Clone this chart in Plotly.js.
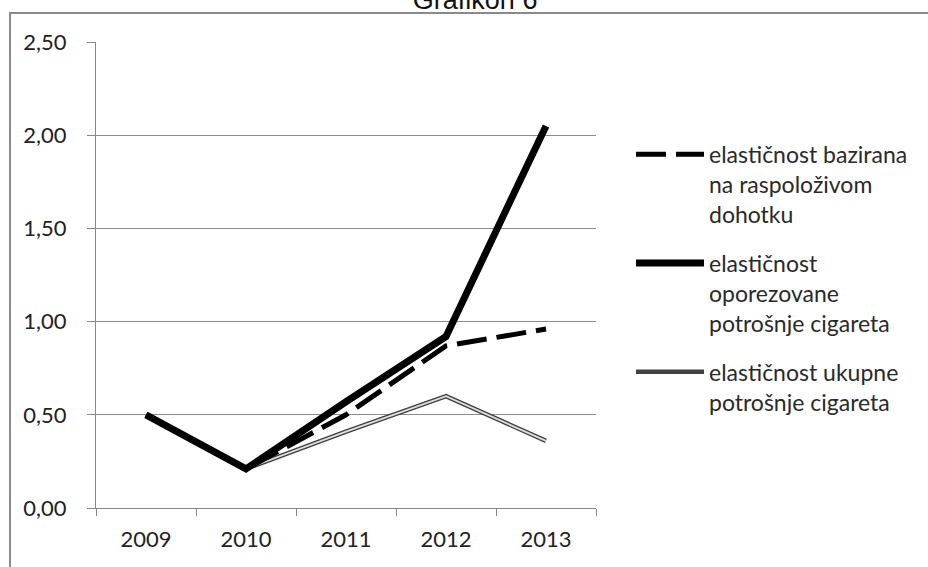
<!DOCTYPE html>
<html>
<head>
<meta charset="utf-8">
<script src="https://cdn.plot.ly/plotly-3.0.1.min.js"></script>
<style>
html,body{margin:0;padding:0;background:#fff;width:928px;height:567px;overflow:hidden;}
#frame{position:absolute;left:9px;top:12px;width:1000px;height:700px;border:2px solid #8a8a8a;box-sizing:border-box;}
#chart{position:absolute;left:0;top:0;width:928px;height:567px;}
</style>
</head>
<body>
<div id="frame"></div>
<div id="chart"></div>
<script>
const years = ['2009', '2010', '2011', '2012', '2013'];
const dohodak = [0.50, 0.21, 0.50, 0.87, 0.96];
const oporezovane = [0.50, 0.21, 0.57, 0.92, 2.05];
const ukupne = [0.50, 0.21, 0.41, 0.60, 0.36];
const names = [
  'elastičnost bazirana<br>na raspoloživom<br>dohotku',
  'elastičnost<br>oporezovane<br>potrošnje cigareta',
  'elastičnost ukupne<br>potrošnje cigareta'
];
const yTicks = [0, 0.5, 1, 1.5, 2, 2.5];

const traces = [
  {x: years, y: ukupne, type: 'scatter', mode: 'lines', name: names[2],
   line: {color: '#404040', width: 4.5}, legendgroup: 'c', legendrank: 3, showlegend: true},
  {x: years, y: ukupne, type: 'scatter', mode: 'lines', name: names[2],
   line: {color: '#e0e0e0', width: 1.8}, legendgroup: 'c', showlegend: false, hoverinfo: 'skip'},
  {x: years, y: dohodak, type: 'scatter', mode: 'lines', name: names[0],
   line: {color: '#000', width: 5, dash: '30px,10px'}, legendgroup: 'a', legendrank: 1},
  {x: years, y: oporezovane, type: 'scatter', mode: 'lines', name: names[1],
   line: {color: '#000', width: 7}, legendgroup: 'b', legendrank: 2}
];

const layout = {
  width: 928, height: 567,
  paper_bgcolor: 'rgba(0,0,0,0)', plot_bgcolor: 'rgba(0,0,0,0)',
  margin: {l: 96, r: 332, t: 42, b: 59},
  separators: ',.',
  font: {family: 'Lato, sans-serif', size: 22, color: '#222'},
  title: {text: 'Grafikon 6', font: {family: 'Liberation Sans, Arial, sans-serif', size: 27, color: '#111'},
          x: 0.512, xref: 'container', xanchor: 'center', y: 1, yref: 'container', yanchor: 'middle'},
  xaxis: {type: 'category', range: [-0.5, 4.5], tickson: 'boundaries', showgrid: false, ticks: 'outside', ticklen: 7,
          tickcolor: '#888', showline: true, linecolor: '#888', linewidth: 1,
          ticklabelstandoff: 12, zeroline: false, fixedrange: true},
  yaxis: {range: [0, 2.5], tickvals: yTicks, tickformat: '.2f', showgrid: true, gridcolor: '#8c8c8c',
          gridwidth: 1, ticks: 'outside', ticklen: 8, tickcolor: '#888', showline: true,
          linecolor: '#888', linewidth: 1, zeroline: false, ticklabelstandoff: 16, fixedrange: true},
  showlegend: true,
  legend: {x: 1.07, xanchor: 'left', y: 0.805, yanchor: 'top', valign: 'top', itemwidth: 68,
           tracegroupgap: 16, font: {family: 'Lato, sans-serif', size: 23, color: '#2a2a2a'},
           bgcolor: 'rgba(0,0,0,0)', traceorder: 'grouped'}
};

Plotly.newPlot('chart', traces, layout, {displayModeBar: false, staticPlot: true});
</script>
</body>
</html>
